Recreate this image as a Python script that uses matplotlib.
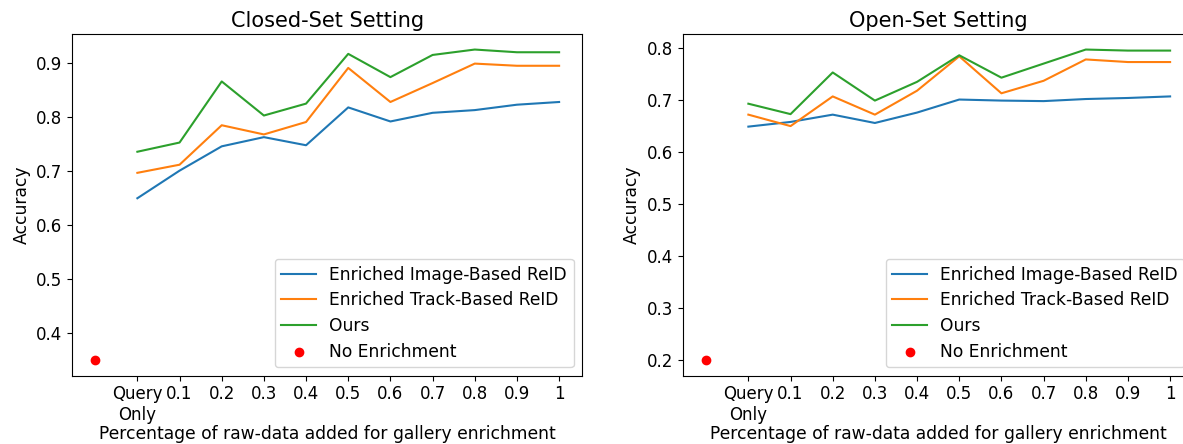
import numpy as np
import matplotlib
matplotlib.use("Agg")
import matplotlib.pyplot as plt

plt.rcParams.update({
    "font.size": 12,
    "axes.titlesize": 15,
    "axes.labelsize": 12.3,
    "legend.fontsize": 12.3,
    "xtick.labelsize": 12,
    "ytick.labelsize": 12,
})

tick_labels = ["Query\nOnly", "0.1", "0.2", "0.3", "0.4", "0.5", "0.6", "0.7", "0.8", "0.9", "1"]

closed_image = [0.650, 0.701, 0.746, 0.763, 0.748, 0.818, 0.792, 0.808, 0.813, 0.823, 0.828]
closed_track = [0.697, 0.712, 0.785, 0.768, 0.791, 0.891, 0.828, 0.863, 0.899, 0.895, 0.895]
closed_ours = [0.736, 0.753, 0.866, 0.803, 0.825, 0.917, 0.874, 0.915, 0.925, 0.920, 0.920]
closed_none = 0.35

open_image = [0.649, 0.658, 0.672, 0.656, 0.676, 0.701, 0.699, 0.698, 0.702, 0.704, 0.707]
open_track = [0.672, 0.650, 0.707, 0.672, 0.718, 0.784, 0.713, 0.737, 0.778, 0.773, 0.773]
open_ours = [0.693, 0.673, 0.753, 0.699, 0.735, 0.786, 0.743, 0.770, 0.797, 0.795, 0.795]
open_none = 0.20

fig = plt.figure(figsize=(11.83, 4.44), dpi=100)
ax1 = fig.add_axes([72 / 1183, 1 - 376 / 444, 510.3 / 1183, 342 / 444])
ax2 = fig.add_axes([683 / 1183, 1 - 376 / 444, 510.3 / 1183, 342 / 444])

x = np.arange(len(tick_labels))

panels = [
    (ax1, "Closed-Set Setting", closed_image, closed_track, closed_ours, closed_none),
    (ax2, "Open-Set Setting", open_image, open_track, open_ours, open_none),
]

for ax, title, img, trk, ours, none in panels:
    ax.plot(x, img, label="Enriched Image-Based ReID")
    ax.plot(x, trk, label="Enriched Track-Based ReID")
    ax.plot(x, ours, label="Ours")
    ax.scatter([-1], [none], color="red", label="No Enrichment")
    ax.set_xticks(x)
    ax.set_xticklabels(tick_labels)
    ax.tick_params(axis="x", pad=3)
    ax.set_title(title, pad=5)
    ax.set_xlabel("Percentage of raw-data added for gallery enrichment", labelpad=1)
    ax.set_ylabel("Accuracy")
    ax.legend(loc="lower right", labelspacing=0.45)

fig.savefig("out.png", dpi=100)
